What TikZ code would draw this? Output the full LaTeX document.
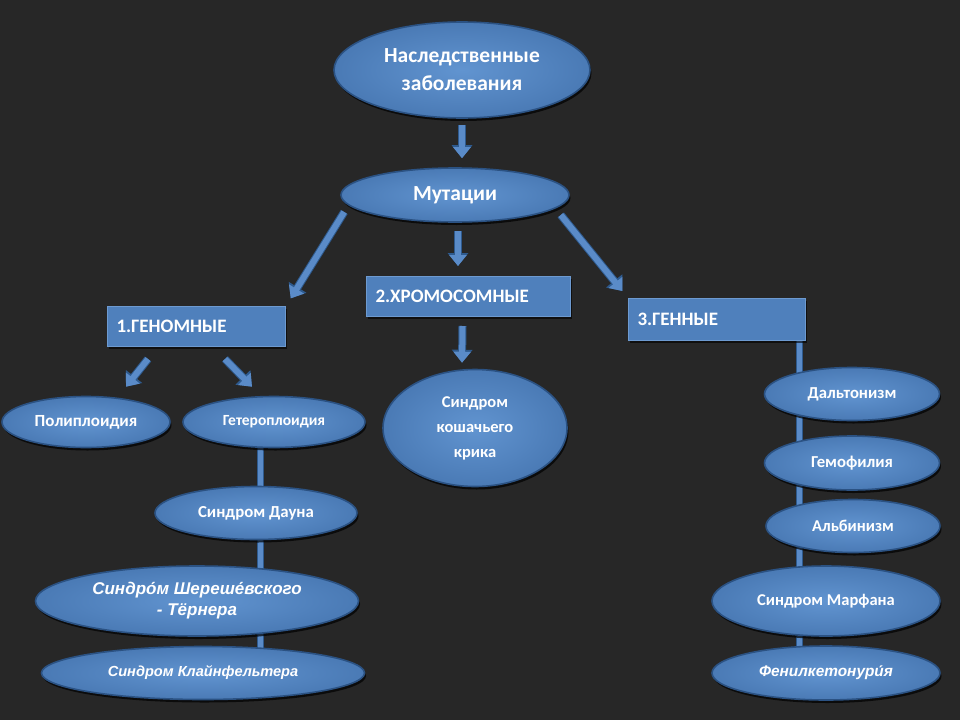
\documentclass[tikz,border=0pt]{standalone}
\usepackage{fontspec}
\setmainfont{Carlito}
\newfontfamily\itfont{Liberation Sans}
\usetikzlibrary{shapes.geometric,arrows.meta,shadows,calc}
\definecolor{bgc}{HTML}{272727}
\definecolor{fillin}{HTML}{6194D0}
\definecolor{fillout}{HTML}{4A7AB5}
\definecolor{edgec}{HTML}{2B5283}
\definecolor{rectc}{HTML}{4F80BC}
\definecolor{rectedge}{HTML}{6D9AD0}
\definecolor{arrc}{HTML}{5A8BC8}
\definecolor{arredge}{HTML}{2E5A8E}
\pgfdeclarelayer{bglayer}
\pgfdeclarelayer{linelayer}
\pgfsetlayers{bglayer,linelayer,main}
\tikzset{
  oval/.style={ellipse, inner sep=0pt, inner color=fillin, outer color=fillout,
    draw=edgec, line width=1.6pt, text=white, font=\bfseries, align=center,
    drop shadow={shadow xshift=1.5pt, shadow yshift=-3pt, opacity=0.7, fill=black}},
  catbox/.style={rectangle, fill=rectc, draw=rectedge, line width=1pt, text=white,
    font=\bfseries\fontsize{19}{22}\selectfont, anchor=north west,
    inner xsep=9pt, inner ysep=0pt, align=left,
    drop shadow={shadow xshift=1.5pt, shadow yshift=-2pt, opacity=0.6, fill=black}},
  blockarrow/.style={line width=6pt, draw=arrc, -{Triangle[length=11pt,width=17pt]},
    preaction={draw=arredge, line width=8pt, -{Triangle[length=13pt,width=20pt]}}},
  conn/.style={line width=5pt, draw=arrc, preaction={draw=arredge, line width=7pt}},
}
\begin{document}
\begin{tikzpicture}[x=1pt,y=-1pt]
\useasboundingbox (0,0) rectangle (960,720);
\begin{pgfonlayer}{bglayer}
\fill[bgc] (0,0) rectangle (960,720);
\end{pgfonlayer}

% top
\node[oval, minimum width=256pt, minimum height=96pt, font=\bfseries\fontsize{21.5}{28}\selectfont]
  (top) at (462,70) {Наследственные\\заболевания};
\node[oval, minimum width=228pt, minimum height=54pt, font=\bfseries\fontsize{21.5}{24}\selectfont]
  (mut) at (455,195) {Мутации};

% category boxes
\node[catbox, minimum width=178pt, minimum height=40pt, text width=160pt] (gen) at (107,306) {1.ГЕНОМНЫЕ};
\node[catbox, minimum width=204pt, minimum height=40pt, text width=186pt] (chrom) at (366,276) {2.ХРОМОСОМНЫЕ};
\node[catbox, minimum width=177pt, minimum height=42pt, text width=159pt] (g3) at (628,298) {3.ГЕННЫЕ\\[2pt]};

% genomic
\node[oval, minimum width=168pt, minimum height=51pt, font=\bfseries\fontsize{17}{20}\selectfont]
  (poly) at (86,422) {Полиплоидия};
\node[oval, minimum width=182pt, minimum height=51pt, font=\bfseries\fontsize{15.5}{18}\selectfont]
  (het) at (274,422) {Гетероплоидия};
\node[oval, minimum width=202pt, minimum height=53pt, font=\bfseries\fontsize{16.8}{20}\selectfont]
  (down) at (256,513) {Синдром Дауна};
\node[oval, minimum width=323pt, minimum height=70pt, font=\itfont\bfseries\itshape\fontsize{17}{21}\selectfont]
  (shte) at (197,601) {Синдро́м Шереше́вского\\- Тёрнера};
\node[oval, minimum width=323pt, minimum height=53pt, font=\itfont\bfseries\itshape\fontsize{14.6}{18}\selectfont]
  (kla) at (203,673) {Синдром Клайнфельтера};

% chromosomal
\node[oval, minimum width=184pt, minimum height=117pt, font=\bfseries\fontsize{16.5}{25}\selectfont]
  (cat) at (475,428) {Синдром\\кошачьего\\крика};

% gene
\node[oval, minimum width=175pt, minimum height=53pt, font=\bfseries\fontsize{16.7}{20}\selectfont]
  (dal) at (852,394) {Дальтонизм};
\node[oval, minimum width=175pt, minimum height=54pt, font=\bfseries\fontsize{16.7}{20}\selectfont]
  (gem) at (852,463) {Гемофилия};
\node[oval, minimum width=174pt, minimum height=53pt, font=\bfseries\fontsize{16.5}{20}\selectfont]
  (alb) at (853,526) {Альбинизм};
\node[oval, minimum width=228pt, minimum height=70pt, font=\bfseries\fontsize{16.5}{20}\selectfont]
  (mar) at (826,601) {Синдром Марфана};
\node[oval, minimum width=228pt, minimum height=54pt, font=\itfont\bfseries\itshape\fontsize{15.4}{18}\selectfont]
  (fen) at (826,673) {Фенилкетонури́я};

% arrows
\draw[blockarrow, shorten <=6pt, shorten >=9pt] (top.south) -- (mut.north -| top.south);
\draw[blockarrow] ([xshift=3pt,yshift=-8pt]mut.south) -- ([xshift=3pt,yshift=10pt]chrom.north -| mut.south);
\draw[blockarrow, shorten >=9pt] ([xshift=4pt,yshift=-17pt]mut.west) -- (gen.north east);
\draw[blockarrow, shorten >=9pt] ([xshift=-9pt,yshift=-20pt]mut.east) -- (g3.north west);
\draw[blockarrow] ([xshift=41pt,yshift=-12pt]gen.south west) -- ([xshift=40pt,yshift=9pt]poly.north);
\draw[blockarrow] ([xshift=118pt,yshift=-12pt]gen.south west) -- ([xshift=-22pt,yshift=9pt]het.north);
\draw[blockarrow] ([xshift=-6pt,yshift=-9pt]chrom.south) -- ([xshift=-13pt,yshift=6pt]cat.north);

% vertical connectors
\begin{pgfonlayer}{linelayer}
\draw[conn] ([xshift=-14pt]het.center) -- ([xshift=-14pt]het.center |- kla.center);
\draw[conn] ([xshift=-7pt]g3.south east) -- ([xshift=-7pt]g3.south east |- fen.center);
\end{pgfonlayer}
\end{tikzpicture}
\end{document}
